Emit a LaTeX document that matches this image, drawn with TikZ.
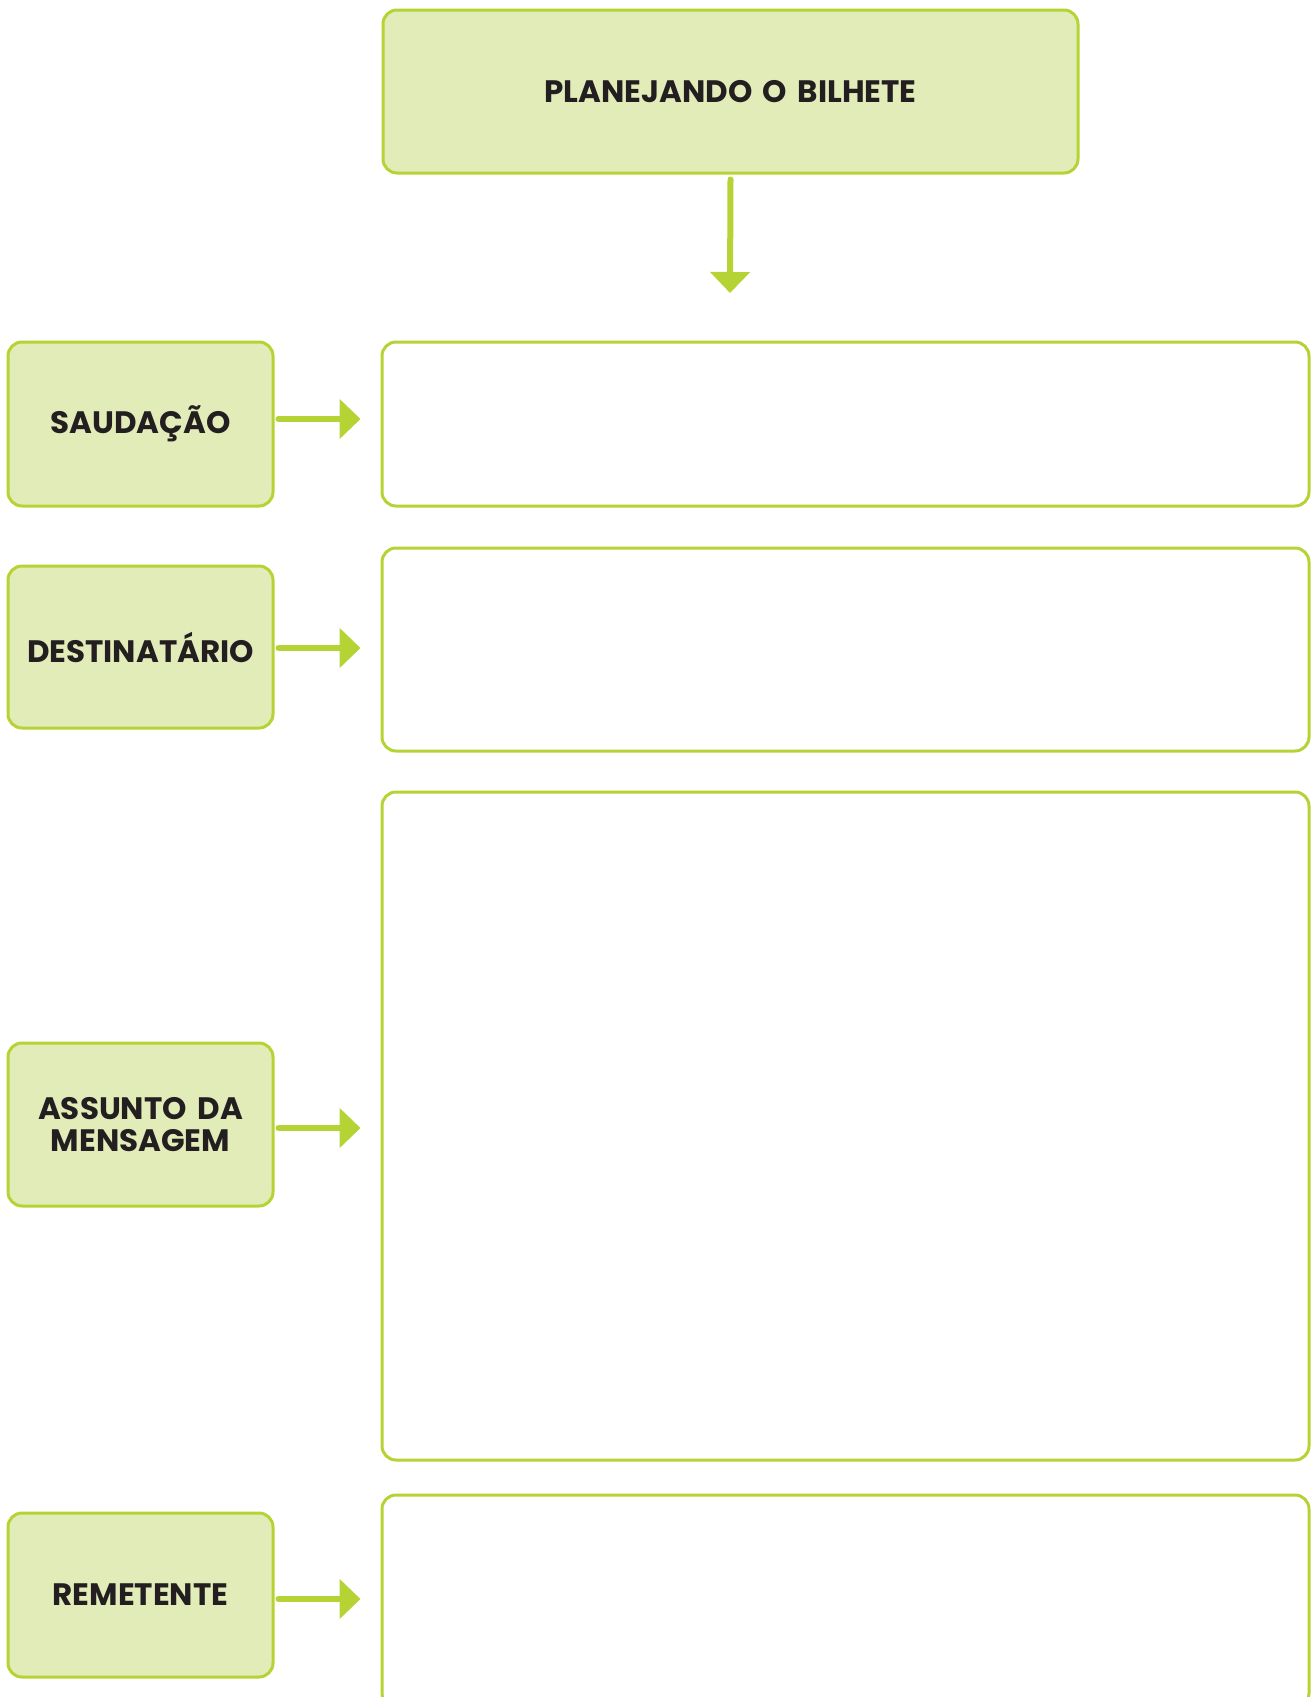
\documentclass[tikz,border=0pt]{standalone}
\usepackage{fontspec}
\setmainfont{Poppins}[WordSpace=1.6]
\usetikzlibrary{arrows.meta}
\definecolor{lgreen}{HTML}{E2ECB9}
\definecolor{dgreen}{HTML}{B5D334}
\definecolor{ink}{HTML}{231F20}
\begin{document}
\begin{tikzpicture}[x=1pt,y=-1pt,
  labelbox/.style={draw=dgreen, fill=lgreen, line width=3pt, rounded corners=14pt,
    minimum width=265pt, minimum height=164pt, inner sep=0pt, align=center,
    font=\fontsize{31}{32}\selectfont\bfseries, text=ink},
  answerbox/.style={draw=dgreen, fill=white, line width=3pt, rounded corners=14pt,
    minimum width=927pt, inner sep=0pt},
  arr/.style={draw=dgreen, line width=6pt, line cap=round,
    -{Triangle[length=21pt,width=39pt]}}]
\useasboundingbox (0,0) rectangle (1314,1697);
\begin{scope}
\clip (0,0) rectangle (1314,1697);
\node[labelbox, minimum width=695pt, minimum height=163pt] (top) at (730.5,91.5) {PLANEJANDO O BILHETE};
\node[labelbox] (sau) at (140.5,424) {SAUDAÇÃO};
\node[labelbox, minimum height=162pt] (dest) at (140.5,647) {DESTINATÁRIO};
\node[labelbox, minimum height=163pt] (ass) at (140.5,1124.5) {ASSUNTO DA\\MENSAGEM};
\node[labelbox] (rem) at (140.5,1595) {REMETENTE};
\node[answerbox, minimum height=164pt] (r1) at (845.5,424) {};
\node[answerbox, minimum height=203pt] (r2) at (845.5,649.5) {};
\node[answerbox, minimum height=668pt] (r3) at (845.5,1126) {};
\node[answerbox, minimum height=212pt] (r4) at (845.5,1601) {};
\coordinate (dtip) at (730,293);
\draw[arr] ([yshift=-5pt]top.south) -- (dtip);
\draw[arr] ([xshift=4pt,yshift=5pt]sau.east) -- ([xshift=-20pt,yshift=5pt]sau.east -| r1.west);
\draw[arr] ([xshift=4pt,yshift=-1pt]dest.east) -- ([xshift=-20pt,yshift=-1pt]dest.east -| r2.west);
\draw[arr] ([xshift=4pt,yshift=-3.5pt]ass.east) -- ([xshift=-20pt,yshift=-3.5pt]ass.east -| r3.west);
\draw[arr] ([xshift=4pt,yshift=-4pt]rem.east) -- ([xshift=-20pt,yshift=-4pt]rem.east -| r4.west);
\end{scope}
\end{tikzpicture}
\end{document}
